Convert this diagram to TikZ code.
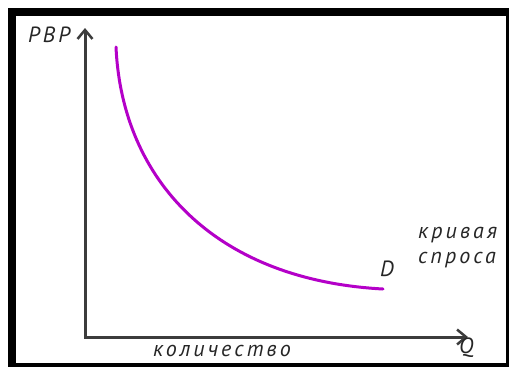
\documentclass[tikz,border=0pt]{standalone}
\usepackage{fontspec}
\setmainfont{PT Sans}[LetterSpace=14]
\usetikzlibrary{arrows.meta}
\definecolor{axisgray}{HTML}{3C3C3C}
\definecolor{curvepurple}{HTML}{B400C8}
\tikzset{
  axisline/.style={draw=axisgray, line width=3pt, line join=miter},
  demand/.style={draw=curvepurple, line width=3pt, line cap=round},
  lbl/.style={inner sep=0pt, anchor=base west, text=black!85, font=\itshape\fontsize{22}{26}\selectfont},
  chev/.tip={Straight Barb[length=9pt,width=15pt,line width=2.5pt]}
}
\begin{document}
\begin{tikzpicture}[x=1pt,y=-1pt]
\useasboundingbox (0,0) rectangle (509,367);
% frame
\fill[black] (8,8) rectangle (509,367);
\fill[white] (16,16) rectangle (506,363);
% axes
\coordinate (O) at (85,337);
\coordinate (ytop) at (85,28);
\coordinate (xend) at (468,337);
\draw[axisline, chev-chev] (ytop) -- (O) -- (xend);
% demand curve
\coordinate (c0) at (116,47);
\coordinate (c1) at (383,289);
\draw[demand] (c0) .. controls (122,180) and (215,280) .. (c1);
% labels
\node[lbl] (pbp) at (28,42) {РВР};
\node[lbl] (d) at (380,276) {D};
\node[lbl] (kr) at (418,238) {кривая};
\node[lbl] (sp) at (418,263) {спроса};
\node[lbl] (kol) at (153,356) {количество};
\node[lbl] (q) at (459,353) {Q};
\end{tikzpicture}
\end{document}
